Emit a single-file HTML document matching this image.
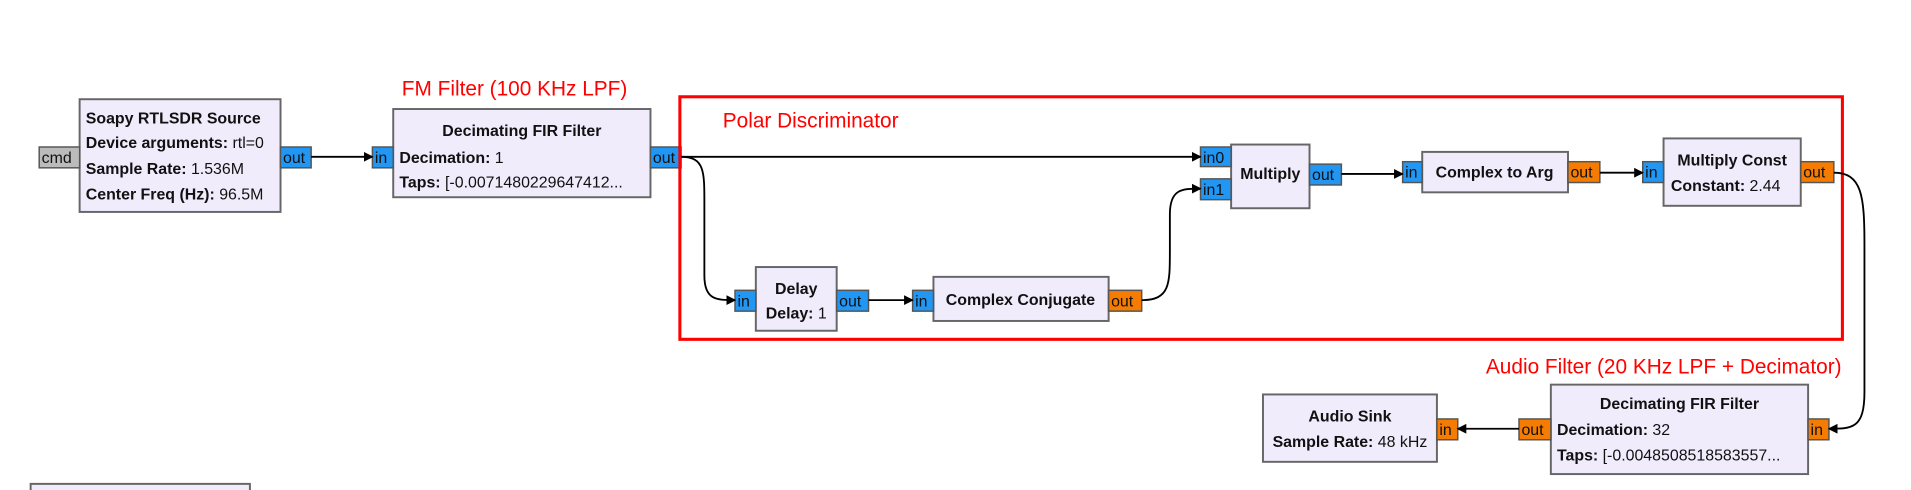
<!DOCTYPE html>
<html><head><meta charset="utf-8"><style>
html,body{margin:0;padding:0;background:#fff;}
svg{display:block;}
text{font-family:"Liberation Sans",sans-serif;font-size:13px;fill:#111;}
.b{font-weight:bold;}
.r{fill:#f00;font-size:17px;}
.p{font-size:13px;}
</style></head><body>
<svg width="1911" height="490" viewBox="0 0 1560 400" xmlns="http://www.w3.org/2000/svg">
<defs><marker id="a" markerWidth="8" markerHeight="8" refX="7" refY="4" orient="auto" markerUnits="userSpaceOnUse"><path d="M0,0 L8,4 L0,8 z" fill="#000"/></marker></defs>
<g fill="#f0ecfc" stroke="#666" stroke-width="1.6">
<rect x="65" y="81" width="164" height="92"/>
<rect x="321" y="89" width="210" height="72"/>
<rect x="1005" y="118" width="64" height="52"/>
<rect x="1161" y="124" width="119" height="33"/>
<rect x="1358" y="113" width="112" height="55"/>
<rect x="617" y="218" width="66" height="52"/>
<rect x="762" y="226" width="143" height="36"/>
<rect x="1266" y="314" width="210" height="73"/>
<rect x="1031" y="322" width="142" height="55"/>
<rect x="25" y="395" width="179" height="20"/>
</g>
<g stroke-width="1.2" stroke="#555">
<rect x="32" y="120" width="33" height="17" fill="#bbb"/>
<rect x="229" y="120" width="25" height="17" fill="#2196f3"/>
<rect x="304" y="120" width="17" height="17" fill="#2196f3"/>
<rect x="531" y="120" width="25" height="17" fill="#2196f3"/>
<rect x="980" y="120" width="25" height="16" fill="#2196f3"/>
<rect x="980" y="146" width="25" height="17" fill="#2196f3"/>
<rect x="1069" y="134" width="26" height="17" fill="#2196f3"/>
<rect x="1145" y="132" width="16" height="17" fill="#2196f3"/>
<rect x="1280" y="132" width="26" height="17" fill="#f57c00"/>
<rect x="1341" y="132" width="17" height="17" fill="#2196f3"/>
<rect x="1470" y="132" width="27" height="17" fill="#f57c00"/>
<rect x="600" y="237" width="17" height="17" fill="#2196f3"/>
<rect x="683" y="237" width="26" height="17" fill="#2196f3"/>
<rect x="745" y="237" width="17" height="17" fill="#2196f3"/>
<rect x="905" y="237" width="27" height="17" fill="#f57c00"/>
<rect x="1476" y="342" width="17" height="17" fill="#f57c00"/>
<rect x="1240" y="342" width="26" height="17" fill="#f57c00"/>
<rect x="1173" y="342" width="17" height="17" fill="#f57c00"/>
</g>
<rect x="555" y="79" width="949" height="198" fill="none" stroke="#f00" stroke-width="2.5"/>
<g fill="none" stroke="#000" stroke-width="1.5" marker-end="url(#a)">
<path d="M254 128 L304 128"/>
<path d="M556 128 L980 128"/>
<path d="M556 128 C575 128 575 140 575 165 L575 225 C575 245 585 245 600 245"/>
<path d="M709 245 L745 245"/>
<path d="M932 245 C955 245 955 232 955 205 L955 175 C955 154 965 154 980 154"/>
<path d="M1095 142 L1145 142"/>
<path d="M1306 141 L1341 141"/>
<path d="M1497 141 C1520 141 1522 160 1522 200 L1522 320 C1522 350 1512 350 1493 350"/>
<path d="M1240 350 L1190 350"/>
</g>
<text class="r" x="328" y="78">FM Filter (100 KHz LPF)</text>
<text class="r" x="590" y="104">Polar Discriminator</text>
<text class="r" x="1213" y="305">Audio Filter (20 KHz LPF + Decimator)</text>
<text x="70" y="101" class="b">Soapy RTLSDR Source</text>
<text x="70" y="121"><tspan class="b">Device arguments:</tspan> rtl=0</text>
<text x="70" y="142"><tspan class="b">Sample Rate:</tspan> 1.536M</text>
<text x="70" y="163"><tspan class="b">Center Freq (Hz):</tspan> 96.5M</text>
<text x="426" y="111" class="b" text-anchor="middle">Decimating FIR Filter</text>
<text x="326" y="133"><tspan class="b">Decimation:</tspan> 1</text>
<text x="326" y="153"><tspan class="b">Taps:</tspan> [-0.0071480229647412...</text>
<text x="1037" y="146" class="b" text-anchor="middle">Multiply</text>
<text x="1220" y="145" class="b" text-anchor="middle">Complex to Arg</text>
<text x="1414" y="135" class="b" text-anchor="middle">Multiply Const</text>
<text x="1364" y="156"><tspan class="b">Constant:</tspan> 2.44</text>
<text x="650" y="240" class="b" text-anchor="middle">Delay</text>
<text x="650" y="260" text-anchor="middle"><tspan class="b">Delay:</tspan> 1</text>
<text x="833" y="249" class="b" text-anchor="middle">Complex Conjugate</text>
<text x="1371" y="334" class="b" text-anchor="middle">Decimating FIR Filter</text>
<text x="1271" y="355"><tspan class="b">Decimation:</tspan> 32</text>
<text x="1271" y="376"><tspan class="b">Taps:</tspan> [-0.0048508518583557...</text>
<text x="1102" y="344" class="b" text-anchor="middle">Audio Sink</text>
<text x="1102" y="365" text-anchor="middle"><tspan class="b">Sample Rate:</tspan> 48 kHz</text>
<g class="p">
<text x="34" y="133">cmd</text>
<text x="231" y="133">out</text>
<text x="306" y="133">in</text>
<text x="533" y="133">out</text>
<text x="982" y="133">in0</text>
<text x="982" y="159">in1</text>
<text x="1071" y="147">out</text>
<text x="1147" y="145">in</text>
<text x="1282" y="145">out</text>
<text x="1343" y="145">in</text>
<text x="1472" y="145">out</text>
<text x="602" y="250">in</text>
<text x="685" y="250">out</text>
<text x="747" y="250">in</text>
<text x="907" y="250">out</text>
<text x="1478" y="355">in</text>
<text x="1242" y="355">out</text>
<text x="1175" y="355">in</text>
</g>
</svg>
</body></html>
